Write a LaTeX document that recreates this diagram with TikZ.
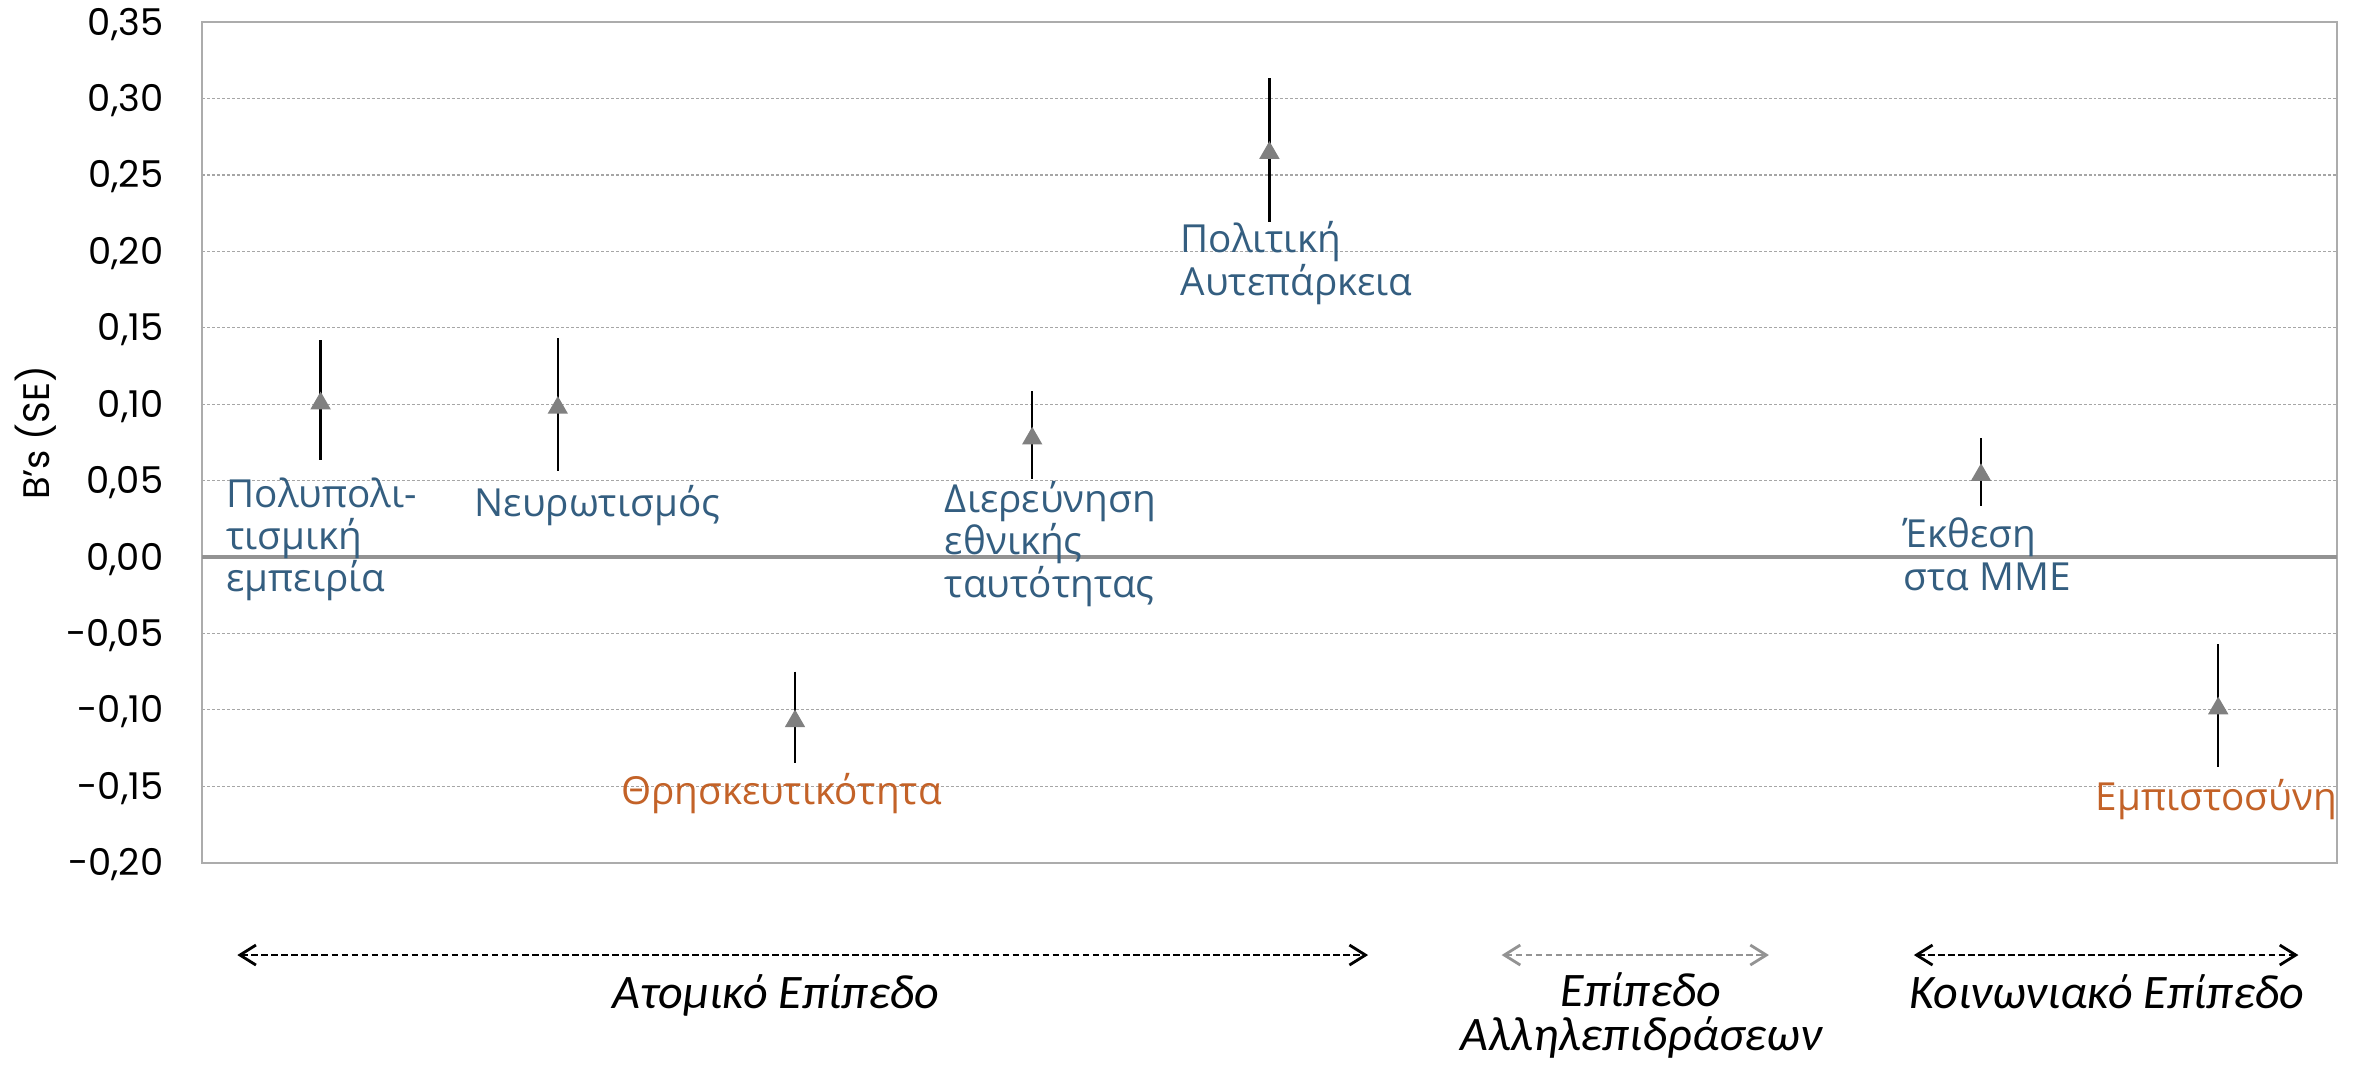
\documentclass[tikz,border=0pt]{standalone}
\usepackage{fontspec}
\setmainfont{Open Sans}
\newfontfamily\axisfont{Poppins}
\newfontfamily\levelfont{Carlito}
\usetikzlibrary{arrows.meta, shapes.geometric}
\definecolor{lblblue}{RGB}{52,94,128}
\definecolor{lblorange}{RGB}{195,98,40}

\begin{document}
\begin{tikzpicture}[
      x=2.372cm, y=15.28cm, >={Straight Barb[length=1.6mm, width=2mm]},
      frame/.style={draw=gray!65, line width=0.6pt},
      zero line/.style={draw=gray!85, line width=0.9pt},
      grid line/.style={draw=gray!70, line width=0.3pt, dash pattern=on 0.85pt off 0.57pt},
      ticklbl/.style={anchor=east, inner sep=0pt, text height=7.4pt, text depth=0pt,
        font=\axisfont\fontsize{10.5pt}{12pt}\selectfont},
      errbar/.style={line width=0.7pt},
      marker/.style={regular polygon, regular polygon sides=3, fill=gray,
        minimum size=0.235cm, inner sep=0pt, yshift=-0.03cm},
      lbl/.style={anchor=base west, inner sep=0pt, align=left, text=lblblue,
        font=\fontsize{11pt}{12pt}\selectfont},
      neglbl/.style={lbl, text=lblorange},
      level/.style={anchor=base, inner sep=0pt, align=center,
        font=\levelfont\itshape\fontsize{13.7pt}{12.4pt}\selectfont},
      span/.style={<->, line width=0.8pt, dash pattern=on 1.9pt off 0.95pt},
      ]

      \useasboundingbox (-0.8516,-0.33181) rectangle (9.0725,0.36453);

      % grid and axis
      \foreach \v in {-0.15,-0.10,-0.05,0.05,0.10,0.15,0.20,0.25,0.30}
        \draw[grid line] (0,\v) -- (9,\v);
      \draw[frame] (0,-0.20) rectangle (9,0.35);
      \draw[zero line] (0,0) -- (9,0);
      \foreach \v/\t [count=\i] in {0.35/{0,35},0.30/{0,30},0.25/{0,25},0.20/{0,20},
          0.15/{0,15},0.10/{0,10},0.05/{0,05},0/{0,00},-0.05/{-0,05},
          -0.10/{-0,10},-0.15/{-0,15},-0.20/{-0,20}}
        \node[ticklbl] (y\i) at (-0.16,\v) {\t};
      \node[rotate=90, inner sep=0pt, font=\axisfont\fontsize{10.5pt}{12pt}\selectfont]
        (ylab) at (-0.6998,0.0812) {B’s (SE)};

      % error bars
      \coordinate (e1t) at (0.5,0.142);   \coordinate (e1b) at (0.5,0.0632);
      \coordinate (e2t) at (1.5,0.143);   \coordinate (e2b) at (1.5,0.0562);
      \coordinate (e3t) at (2.5,-0.075);  \coordinate (e3b) at (2.5,-0.135);
      \coordinate (e4t) at (3.5,0.1086);  \coordinate (e4b) at (3.5,0.0509);
      \coordinate (e5t) at (4.5,0.3133);  \coordinate (e5b) at (4.5,0.2194);
      \coordinate (e6t) at (7.5,0.0777);  \coordinate (e6b) at (7.5,0.0334);
      \coordinate (e7t) at (8.5,-0.0571); \coordinate (e7b) at (8.5,-0.1372);
      \draw[errbar] (e1t) -- (e1b);
      \draw[errbar] (e2t) -- (e2b);
      \draw[errbar] (e3t) -- (e3b);
      \draw[errbar] (e4t) -- (e4b);
      \draw[errbar] (e5t) -- (e5b);
      \draw[errbar] (e6t) -- (e6b);
      \draw[errbar] (e7t) -- (e7b);

      % estimates
      \node[marker] (m1) at (0.5,0.1025)  {};
      \node[marker] (m2) at (1.5,0.0996)  {};
      \node[marker] (m3) at (2.5,-0.1055) {};
      \node[marker] (m4) at (3.5,0.0795)  {};
      \node[marker] (m5) at (4.5,0.2664)  {};
      \node[marker] (m6) at (7.5,0.0556)  {};
      \node[marker] (m7) at (8.5,-0.0971) {};

      % labels (base = last line)
      \node[lbl]    (l1) at (0.1003,-0.0227) {Πολυπολι-\\τισμική\\εμπειρία};
      \node[lbl]    (l2) at (1.1467,0.0268)  {Νευρωτισμός};
      \node[neglbl] (l3) at (1.764,-0.1623)  {Θρησκευτικότητα};
      \node[lbl]    (l4) at (3.129,-0.0262)  {Διερεύνηση\\εθνικής\\ταυτότητας};
      \node[lbl]    (l5) at (4.123,0.1714)   {Πολιτική\\Αυτεπάρκεια};
      \node[lbl]    (l6) at (7.171,-0.0216)  {Έκθεση\\στα ΜΜΕ};
      \node[neglbl] (l7) at (7.981,-0.1656)  {Εμπιστοσύνη};

      % levels
      \coordinate (s1l) at (0.1488,-0.2605); \coordinate (s1r) at (4.916,-0.2605);
      \coordinate (s2l) at (5.479,-0.2605);  \coordinate (s2r) at (6.606,-0.2605);
      \coordinate (s3l) at (7.217,-0.2605);  \coordinate (s3r) at (8.838,-0.2605);
      \draw[span] (s1l) -- (s1r);
      \draw[span, draw=gray!85] (s2l) -- (s2r);
      \draw[span] (s3l) -- (s3r);
      \node[level] (v1) at (2.42,-0.2956)  {Ατομικό Επίπεδο};
      \node[level] (v2) at (6.067,-0.3228) {Επίπεδο\\Αλληλεπιδράσεων};
      \node[level] (v3) at (8.031,-0.2956) {Κοινωνιακό Επίπεδο};
    \end{tikzpicture}
\end{document}
